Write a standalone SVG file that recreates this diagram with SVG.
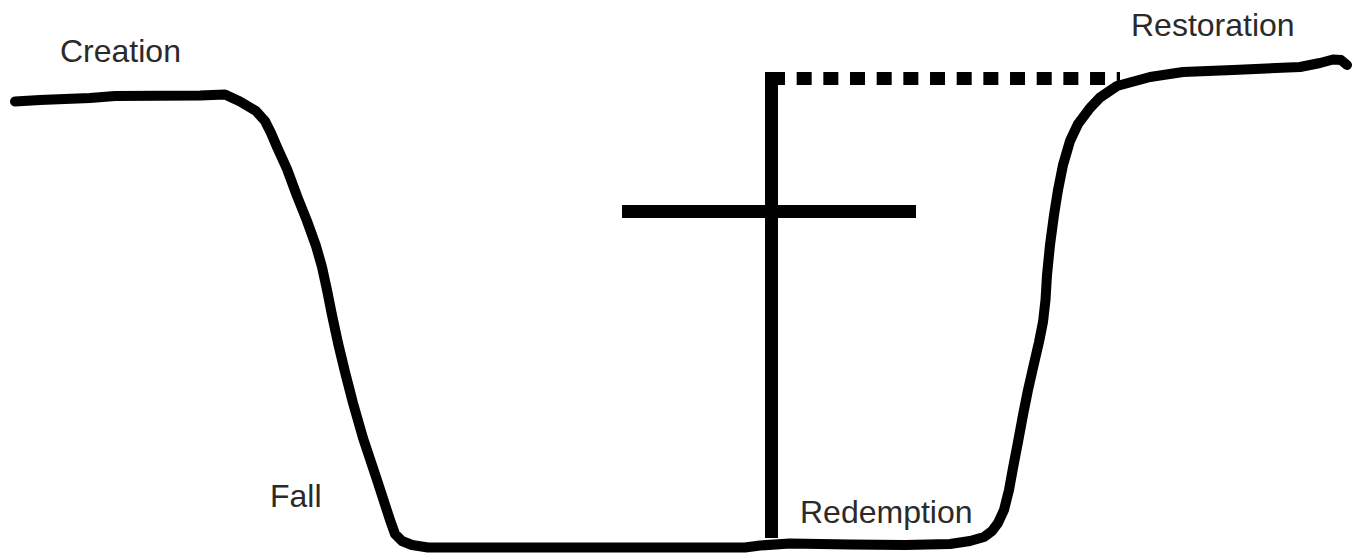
<svg xmlns="http://www.w3.org/2000/svg" width="1360" height="553" viewBox="0 0 1360 553">
  <style>
    .lbl { font-family: "Liberation Sans", Arial, sans-serif; font-size: 32px; fill: #2a2a2a; }
    .ink { fill: none; stroke: #000; }
  </style>
  <rect width="1360" height="553" fill="#fff"/>
  <g id="connectors">
    <line id="dotted-restoration" class="ink" x1="770" y1="78.5" x2="1120" y2="78.5" stroke-width="13" stroke-dasharray="15 11.67"/>
    <path id="story-curve" class="ink" stroke-width="10" stroke-linecap="round" stroke-linejoin="round"
      d="M15,101.5 L40,100 L90,98 L115,96 L200,95.5 L225,94.5 L240,101.5 L256,111 L265,121 L271,133 L277,147 L287,169 L297,196 L307,221 L316,246 L322,267 L327,290 L332,315 L338,343 L345,372 L353,403 L363,438 L377,480 L390,520 L395,534 L402,541 L412,545 L428,547.5 L745,547.5 L760,545.5 L790,543.5 L850,544.5 L905,545 L950,544 L970,541 L984,537 L992,531 L998,523 L1004,510 L1009,490 L1013,468 L1018,442 L1023,415 L1028,390 L1033,368 L1039,342 L1043,322 L1045.5,300 L1047,275 L1050,245 L1054,215 L1058,190 L1063,165 L1070,141 L1078,124 L1090,108 L1100,97.5 L1117,86 L1150,77 L1183,72 L1233,70 L1300,67 L1320,63 L1333,59.5 L1341,60 L1347,65"/>
  </g>
  <g id="cross">
    <rect x="765" y="72" width="13" height="466" fill="#000"/>
    <rect x="622" y="205" width="294" height="13" fill="#000"/>
  </g>
  <g id="creation"><text class="lbl" x="60" y="62">Creation</text></g>
  <g id="fall"><text class="lbl" x="270" y="507">Fall</text></g>
  <g id="redemption"><text class="lbl" x="800" y="523">Redemption</text></g>
  <g id="restoration"><text class="lbl" x="1131" y="36">Restoration</text></g>
</svg>
